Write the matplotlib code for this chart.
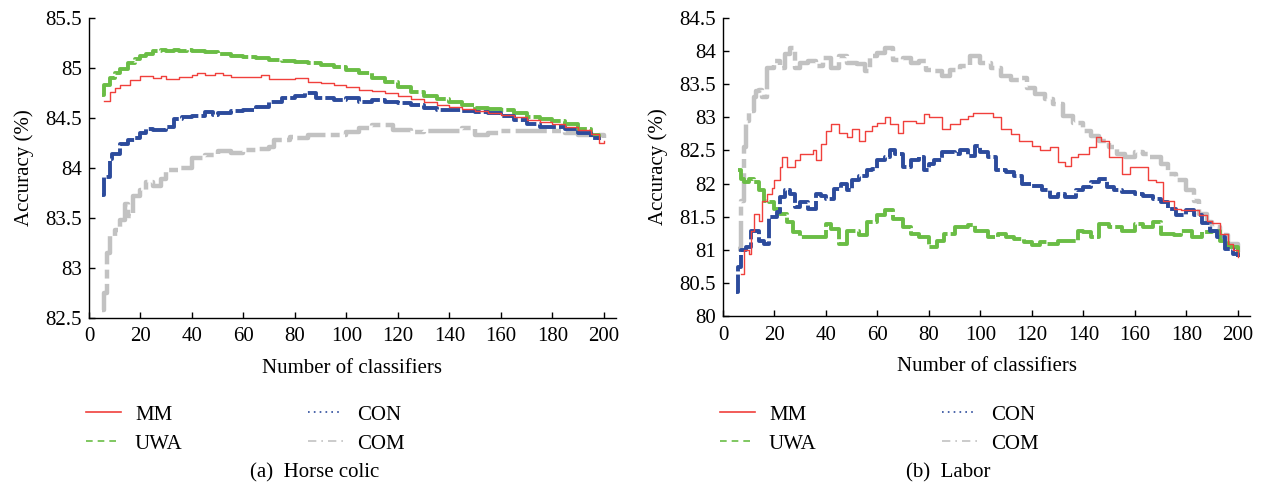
import matplotlib
matplotlib.use("Agg")
import matplotlib.pyplot as plt
from matplotlib.lines import Line2D
from matplotlib.ticker import FuncFormatter

plt.rcParams["font.family"] = ["Liberation Serif", "DejaVu Serif"]

# -----------------------------
# Data: (a) Horse colic
# -----------------------------
horse_mm_x = [6, 8, 10, 12, 16, 20, 25, 28, 30, 35, 40, 42, 45, 49, 52, 55, 60, 65, 67, 70,
              75, 80, 85, 90, 95, 100, 105, 110, 115, 120, 125, 130, 135, 140, 145, 150,
              155, 160, 165, 170, 175, 180, 185, 190, 195, 198, 200]
horse_mm = [84.67, 84.76, 84.8, 84.83, 84.88, 84.92, 84.9, 84.92, 84.89, 84.91, 84.93, 84.95,
            84.93, 84.95, 84.93, 84.91, 84.91, 84.91, 84.93, 84.89, 84.89, 84.9, 84.86, 84.85,
            84.83, 84.81, 84.78, 84.77, 84.75, 84.72, 84.69, 84.66, 84.63, 84.61, 84.59, 84.57,
            84.55, 84.53, 84.51, 84.48, 84.46, 84.44, 84.41, 84.38, 84.34, 84.25, 84.27]

horse_uwa_x = [5, 6, 8, 10, 12, 15, 18, 20, 22, 25, 28, 30, 33, 35, 38, 40, 45, 50, 55, 60,
               65, 70, 75, 80, 85, 90, 95, 100, 105, 110, 115, 120, 125, 130, 135, 140, 145,
               150, 155, 160, 165, 170, 175, 180, 185, 190, 195, 198]
horse_uwa = [84.73, 84.83, 84.9, 84.95, 84.99, 85.05, 85.09, 85.12, 85.14, 85.17, 85.18, 85.17,
             85.18, 85.17, 85.18, 85.17, 85.16, 85.14, 85.12, 85.11, 85.1, 85.08, 85.07, 85.06,
             85.05, 85.03, 85.01, 84.98, 84.95, 84.9, 84.86, 84.81, 84.76, 84.72, 84.69, 84.66,
             84.63, 84.6, 84.59, 84.58, 84.55, 84.51, 84.49, 84.47, 84.44, 84.39, 84.33, 84.3]

horse_con_x = [5, 6, 8, 9, 12, 15, 18, 20, 22, 25, 30, 33, 36, 40, 45, 48, 50, 55, 60, 65,
               70, 75, 80, 84, 88, 90, 95, 100, 105, 110, 115, 120, 125, 130, 135, 140, 145,
               150, 155, 160, 165, 170, 175, 180, 185, 190, 195, 198]
horse_con = [83.73, 83.91, 84.09, 84.14, 84.24, 84.28, 84.3, 84.35, 84.39, 84.38, 84.41, 84.49,
             84.51, 84.52, 84.56, 84.53, 84.55, 84.57, 84.58, 84.61, 84.66, 84.7, 84.72, 84.75,
             84.7, 84.7, 84.68, 84.7, 84.66, 84.68, 84.66, 84.65, 84.63, 84.6, 84.58, 84.58,
             84.57, 84.56, 84.55, 84.52, 84.48, 84.44, 84.41, 84.41, 84.39, 84.35, 84.3, 84.28]

horse_com_x = [5, 6, 7, 8, 10, 12, 14, 15, 17, 20, 22, 25, 28, 30, 35, 40, 45, 50, 55, 60,
               65, 70, 72, 78, 80, 85, 90, 95, 100, 105, 110, 115, 118, 120, 125, 130, 135,
               140, 145, 150, 155, 160, 170, 180, 185, 190, 195, 200]
horse_com = [82.58, 82.75, 83.15, 83.32, 83.38, 83.48, 83.64, 83.52, 83.72, 83.78, 83.86, 83.82,
             83.89, 83.98, 84.0, 84.1, 84.13, 84.17, 84.15, 84.18, 84.19, 84.21, 84.28, 84.31,
             84.3, 84.33, 84.33, 84.33, 84.36, 84.4, 84.43, 84.43, 84.38, 84.38, 84.36, 84.37,
             84.37, 84.37, 84.4, 84.33, 84.35, 84.37, 84.37, 84.37, 84.35, 84.33, 84.33, 84.3]

# -----------------------------
# Data: (b) Labor
# -----------------------------
labor_mm_x = [7, 8, 10, 11, 12, 14, 15, 17, 19, 20, 22, 23, 25, 28, 30, 35, 36, 38, 40, 42,
              45, 48, 50, 53, 55, 58, 60, 63, 65, 68, 70, 75, 78, 80, 85, 88, 92, 95, 97, 100,
              105, 108, 112, 115, 120, 123, 127, 130, 133, 135, 138, 142, 145, 147, 150, 155,
              158, 162, 165, 168, 171, 175, 178, 180, 185, 188, 190, 193, 196, 198, 200]
labor_mm = [80.64, 81.0, 80.94, 81.29, 81.54, 81.44, 81.74, 81.84, 81.94, 82.05, 82.25, 82.4,
            82.25, 82.35, 82.45, 82.5, 82.35, 82.6, 82.8, 82.9, 82.77, 82.7, 82.82, 82.65, 82.8,
            82.87, 82.92, 83.0, 82.9, 82.77, 82.95, 82.92, 83.05, 83.0, 82.82, 82.9, 82.97,
            83.02, 83.07, 83.07, 83.0, 82.82, 82.75, 82.65, 82.57, 82.5, 82.55, 82.32, 82.27,
            82.4, 82.45, 82.55, 82.7, 82.65, 82.4, 82.15, 82.25, 82.25, 82.05, 82.02, 81.74,
            81.62, 81.6, 81.6, 81.52, 81.44, 81.4, 81.24, 81.09, 81.0, 80.89]

labor_uwa_x = [6, 7, 8, 10, 12, 14, 16, 18, 20, 22, 25, 27, 30, 35, 38, 40, 42, 45, 48, 50,
               53, 56, 60, 63, 66, 70, 73, 76, 80, 83, 86, 90, 95, 98, 100, 103, 107, 110, 113,
               117, 120, 123, 126, 130, 135, 138, 140, 143, 146, 150, 155, 160, 163, 167, 170,
               175, 178, 182, 186, 190, 193, 196, 200]
labor_uwa = [82.2, 82.07, 82.02, 82.07, 82.02, 81.9, 81.74, 81.72, 81.62, 81.54, 81.42, 81.27,
             81.19, 81.19, 81.19, 81.39, 81.32, 81.09, 81.29, 81.29, 81.22, 81.42, 81.52, 81.6,
             81.47, 81.34, 81.24, 81.19, 81.04, 81.14, 81.24, 81.34, 81.37, 81.29, 81.29, 81.19,
             81.24, 81.19, 81.17, 81.12, 81.07, 81.12, 81.09, 81.14, 81.14, 81.29, 81.27, 81.19,
             81.39, 81.34, 81.29, 81.39, 81.34, 81.42, 81.24, 81.22, 81.29, 81.19, 81.27, 81.29,
             81.14, 81.04, 80.89]

labor_con_x = [5, 6, 7, 9, 11, 14, 16, 18, 21, 22, 24, 26, 28, 30, 33, 36, 38, 40, 43, 46,
               48, 50, 53, 56, 58, 60, 63, 65, 67, 70, 73, 76, 78, 80, 82, 85, 90, 92, 95, 98,
               100, 103, 106, 110, 113, 116, 120, 124, 127, 130, 133, 137, 140, 143, 146, 149,
               152, 155, 160, 163, 167, 170, 173, 176, 180, 183, 186, 189, 192, 195, 198, 200]
labor_con = [80.37, 80.74, 81.0, 81.04, 81.29, 81.14, 81.09, 81.5, 81.57, 81.8, 81.9, 81.85,
             81.64, 81.72, 81.62, 81.85, 81.82, 81.77, 81.92, 82.0, 81.9, 82.05, 82.12, 82.2,
             82.22, 82.35, 82.4, 82.5, 82.45, 82.25, 82.35, 82.4, 82.2, 82.3, 82.35, 82.47,
             82.45, 82.5, 82.42, 82.57, 82.47, 82.4, 82.2, 82.17, 82.12, 82.0, 81.97, 81.9, 81.8,
             81.85, 81.8, 81.9, 81.95, 82.02, 82.07, 81.95, 81.9, 81.87, 81.85, 81.82, 81.77,
             81.72, 81.62, 81.52, 81.6, 81.52, 81.4, 81.29, 81.19, 81.02, 80.94, 80.89]

labor_com_x = [6, 7, 8, 9, 10, 12, 13, 14, 15, 17, 20, 22, 24, 26, 28, 30, 33, 36, 39, 42,
               45, 48, 52, 55, 57, 60, 63, 66, 70, 73, 76, 79, 82, 85, 88, 92, 96, 100, 104,
               108, 112, 115, 118, 121, 125, 128, 132, 136, 140, 143, 146, 150, 153, 156, 160,
               163, 166, 170, 173, 176, 180, 183, 185, 188, 190, 193, 196, 200]
labor_com = [81.02, 81.74, 82.55, 82.95, 83.1, 83.3, 83.4, 83.42, 83.3, 83.75, 83.85, 83.75,
             83.95, 84.05, 83.75, 83.82, 83.85, 83.77, 83.9, 83.75, 83.92, 83.82, 83.8, 83.7,
             83.92, 83.97, 84.05, 83.87, 83.9, 83.82, 83.85, 83.72, 83.7, 83.62, 83.72, 83.77,
             83.92, 83.82, 83.75, 83.62, 83.57, 83.6, 83.45, 83.35, 83.27, 83.2, 83.02, 82.92,
             82.8, 82.72, 82.65, 82.55, 82.45, 82.4, 82.47, 82.45, 82.4, 82.3, 82.15, 82.05,
             81.9, 81.74, 81.54, 81.42, 81.34, 81.22, 81.09, 80.89]

COLORS = {"MM": "#f0403c", "UWA": "#6abd45", "CON": "#2c4b9c", "COM": "#c2c2c2"}
FS = 15

fig = plt.figure(figsize=(12.62, 4.87), dpi=100)
ax1 = fig.add_axes([0.0705, 0.348, 0.4176, 0.615])
ax2 = fig.add_axes([0.5729, 0.351, 0.4176, 0.612])


def draw_panel(ax, series, ylim, yticks):
    # thick stepped traces for UWA/CON/COM, thin red for MM
    for name, xs, ys in series:
        if name == "MM":
            ax.plot(xs, ys, color=COLORS[name], lw=1.0, drawstyle="steps-post", zorder=5)
        elif name == "UWA":
            ax.plot(xs, ys, color=COLORS[name], lw=2.8, drawstyle="steps-post",
                    linestyle=(0, (8, 0.8)), zorder=3)
        elif name == "CON":
            ax.plot(xs, ys, color=COLORS[name], lw=2.8, drawstyle="steps-post",
                    linestyle=(0, (5, 0.8)), zorder=4)
        else:
            ax.plot(xs, ys, color=COLORS[name], lw=3.2, drawstyle="steps-post",
                    linestyle=(0, (7, 1.2, 2, 1.2)), zorder=2)

    ax.set_xlim(0, 204.7)
    ax.set_ylim(*ylim)
    ax.set_xticks(range(0, 201, 20))
    ax.set_yticks(yticks)
    ax.yaxis.set_major_formatter(FuncFormatter(lambda v, p: f"{v:g}"))
    for s in ("top", "right"):
        ax.spines[s].set_visible(False)
    ax.spines["left"].set_linewidth(1.0)
    ax.spines["bottom"].set_linewidth(1.0)
    ax.tick_params(direction="in", length=4, width=1.0, labelsize=FS)
    ax.tick_params(axis="x", pad=7)
    ax.tick_params(axis="y", pad=5)
    ax.set_xlabel("Number of classifiers", fontsize=FS, labelpad=9)
    ax.set_ylabel("Accuracy (%)", fontsize=FS, labelpad=8)


draw_panel(ax1,
           [("COM", horse_com_x, horse_com), ("CON", horse_con_x, horse_con),
            ("UWA", horse_uwa_x, horse_uwa), ("MM", horse_mm_x, horse_mm)],
           (82.5, 85.5), [82.5, 83, 83.5, 84, 84.5, 85, 85.5])
draw_panel(ax2,
           [("COM", labor_com_x, labor_com), ("CON", labor_con_x, labor_con),
            ("UWA", labor_uwa_x, labor_uwa), ("MM", labor_mm_x, labor_mm)],
           (80, 84.5), [80, 80.5, 81, 81.5, 82, 82.5, 83, 83.5, 84, 84.5])

# -----------------------------
# Legends (proxy handles, thin)
# -----------------------------
handles = [
    Line2D([], [], color=COLORS["MM"], lw=1.2, linestyle="-"),
    Line2D([], [], color=COLORS["UWA"], lw=1.2, linestyle=(0, (4, 3))),
    Line2D([], [], color=COLORS["CON"], lw=1.2, linestyle=(0, (1, 2.5))),
    Line2D([], [], color=COLORS["COM"], lw=1.2, linestyle=(0, (5, 3, 1, 3))),
]
labels = ["MM", "UWA", "CON", "COM"]

for x0 in (86 / 1262, 720 / 1262):
    fig.legend(handles, labels, loc="upper left", bbox_to_anchor=(x0, 1 - 405 / 487),
               ncol=2, frameon=False, fontsize=FS, handlelength=1.7, handletextpad=0.65,
               columnspacing=6.0, labelspacing=0.45, borderpad=0, borderaxespad=0)

fig.text(315 / 1262, 1 - 473 / 487, "(a)  Horse colic", ha="center", va="center", fontsize=FS)
fig.text(948 / 1262, 1 - 473 / 487, "(b)  Labor", ha="center", va="center", fontsize=FS)

fig.savefig("out.png", dpi=100)
